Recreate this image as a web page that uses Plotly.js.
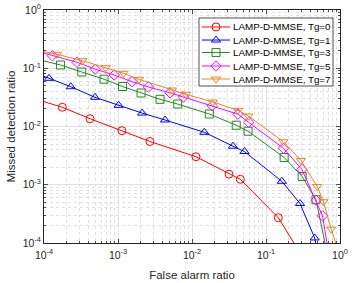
<!DOCTYPE html>
<html><head><meta charset="utf-8">
<script src="https://cdn.plot.ly/plotly-3.0.1.min.js"></script>
<style>html,body{margin:0;padding:0;background:#fff}#chart{width:357px;height:283px}</style>
</head><body><div id="chart"></div>
<script>
// ---- data ----
const seriesNames = ['LAMP-D-MMSE, Tg=0','LAMP-D-MMSE, Tg=1','LAMP-D-MMSE, Tg=3','LAMP-D-MMSE, Tg=5','LAMP-D-MMSE, Tg=7'];

const xTg0 = [7e-5, 1.77e-4, 4.19e-4, 1.13e-3, 2.70e-3, 0.0113, 0.0316, 0.045, 0.1466, 0.288];
const yTg0 = [0.0306, 0.0214, 0.0136, 0.00847, 0.00553, 0.00303, 0.00152, 0.00124, 2.72e-4, 6.8e-5];

const xTg1 = [7e-5, 1.17e-4, 2.30e-4, 4.89e-4, 1.02e-3, 2.12e-3, 4.32e-3, 0.01466, 0.0358, 0.0512, 0.1637, 0.288, 0.455, 0.505];
const yTg1 = [0.0866, 0.0672, 0.0482, 0.0317, 0.0231, 0.0170, 0.01294, 0.00795, 0.00459, 0.00372, 0.001146, 4.76e-4, 1.22e-4, 6.2e-5];

const xTg3 = [7e-5, 1.67e-4, 3.24e-4, 6.47e-4, 1.15e-3, 2.05e-3, 3.70e-3, 6.41e-3, 0.01713, 0.0396, 0.0572, 0.176, 0.308, 0.474, 0.678];
const yTg3 = [0.1488, 0.1138, 0.0862, 0.0649, 0.0486, 0.0376, 0.0293, 0.0243, 0.0164, 0.01052, 0.0083, 0.00294, 0.001386, 5.52e-4, 6.2e-5];

const xTg5 = [7e-5, 1.295e-4, 2.79e-4, 4.92e-4, 8.89e-4, 1.546e-3, 2.58e-3, 5.04e-3, 7.67e-3, 0.0188, 0.0418, 0.0583, 0.172, 0.306, 0.476, 0.581, 0.709];
const yTg5 = [0.2057, 0.1642, 0.1265, 0.0963, 0.0766, 0.0588, 0.0477, 0.0379, 0.0321, 0.02266, 0.01626, 0.0118, 0.00422, 0.00183, 5.41e-4, 2.91e-4, 6.2e-5];

const xTg7 = [7e-5, 1.50e-4, 3.31e-4, 6.78e-4, 1.187e-3, 1.92e-3, 5.37e-3, 8.25e-3, 0.0192, 0.0418, 0.0577, 0.1714, 0.297, 0.492, 0.598, 0.760, 0.94];
const yTg7 = [0.211, 0.1736, 0.1348, 0.1022, 0.0819, 0.0646, 0.0423, 0.0358, 0.02634, 0.01897, 0.01515, 0.00548, 0.00261, 9.33e-4, 5.12e-4, 1.726e-4, 7.6e-5];

const tickVals = [1e-4, 1e-3, 1e-2, 1e-1, 1];
const tickText = ['10<sup>-4</sup>','10<sup>-3</sup>','10<sup>-2</sup>','10<sup>-1</sup>','10<sup>0</sup>'];

// ---- styles ----
const colors = ['#ff0000','#0000ff','#228B22','#ff00ff','#E9861C'];
const symbols = ['circle-open','triangle-up-open','square-open','diamond-open','triangle-down-open'];
const xs = [xTg0, xTg1, xTg3, xTg5, xTg7];
const ys = [yTg0, yTg1, yTg3, yTg5, yTg7];

const minorVals = [];
for (let e = -4; e < 0; e++) for (let m = 2; m <= 9; m++) minorVals.push(m * Math.pow(10, e));

const traces = [];
for (let i = 0; i < xs.length; i++) {
  traces.push({
    x: xs[i], y: ys[i], type: 'scatter', mode: 'lines+markers',
    line: {color: colors[i], width: 1},
    marker: {symbol: symbols[i], size: 8, color: colors[i], line: {width: 1, color: colors[i]}},
    hoverinfo: 'skip', showlegend: false
  });
}

// ---- hand-built legend in its own small subplot ----
const legRows = [0.868, 0.676, 0.493, 0.294, 0.103];
const legX0 = 0.5236, legX1 = 0.9764, legY0 = 0.6738, legY1 = 0.9657;
traces.push({x: [0,1,1,0,0], y: [0,0,1,1,0], xaxis: 'x2', yaxis: 'y2', mode: 'lines', fill: 'toself',
  fillcolor: '#ffffff', line: {width: 0, color: '#ffffff'}, hoverinfo: 'skip', showlegend: false});
const annotations = [];
for (let i = 0; i < seriesNames.length; i++) {
  traces.push({x: [0.022, 0.231], y: [legRows[i], legRows[i]], xaxis: 'x2', yaxis: 'y2', mode: 'lines',
    line: {color: colors[i], width: 1}, hoverinfo: 'skip', showlegend: false});
  traces.push({x: [0.127], y: [legRows[i]], xaxis: 'x2', yaxis: 'y2', mode: 'markers',
    marker: {symbol: symbols[i], size: 8, color: colors[i], line: {width: 1, color: colors[i]}},
    hoverinfo: 'skip', showlegend: false});
  annotations.push({text: seriesNames[i], xref: 'x2', yref: 'y2', x: 0.238, y: legRows[i],
    xanchor: 'left', yanchor: 'middle', showarrow: false, font: {size: 9.8, color: '#000'}});
}

const axisCommon = {
  type: 'log', tickvals: tickVals, ticktext: tickText,
  showline: true, linecolor: '#262626', linewidth: 1, mirror: 'ticks',
  ticks: 'inside', ticklen: 4, tickcolor: '#262626', tickwidth: 0.8,
  showgrid: true, gridcolor: '#e1e1e1', gridwidth: 1, zeroline: false,
  tickfont: {size: 10.5, color: '#262626'},
  minor: {tickvals: minorVals, ticks: 'inside', ticklen: 2, tickcolor: '#262626',
          showgrid: true, gridcolor: '#d9d9d9', griddash: 'dot', gridwidth: 0.8}
};

const layout = {
  width: 357, height: 283,
  margin: {l: 44, r: 17, t: 10, b: 40},
  paper_bgcolor: '#fff', plot_bgcolor: '#fff',
  font: {family: 'Liberation Sans, Arial, sans-serif', color: '#262626'},
  showlegend: false,
  xaxis: Object.assign({}, axisCommon, {range: [-4, 0], ticklabelstandoff: 2,
    title: {text: 'False alarm ratio', font: {size: 11.5}, standoff: 11}}),
  yaxis: Object.assign({}, axisCommon, {range: [-4, 0],
    title: {text: 'Missed detection ratio', font: {size: 11.5}, standoff: 4}}),
  xaxis2: {domain: [legX0, legX1], anchor: 'y2', range: [0, 1], visible: false, fixedrange: true},
  yaxis2: {domain: [legY0, legY1], anchor: 'x2', range: [0, 1], visible: false, fixedrange: true},
  shapes: [{type: 'rect', xref: 'paper', yref: 'paper', x0: legX0, x1: legX1, y0: legY0, y1: legY1,
            line: {color: '#262626', width: 0.8}, layer: 'above'}],
  annotations: annotations
};

Plotly.newPlot('chart', traces, layout, {staticPlot: true, displayModeBar: false});
</script></body></html>
